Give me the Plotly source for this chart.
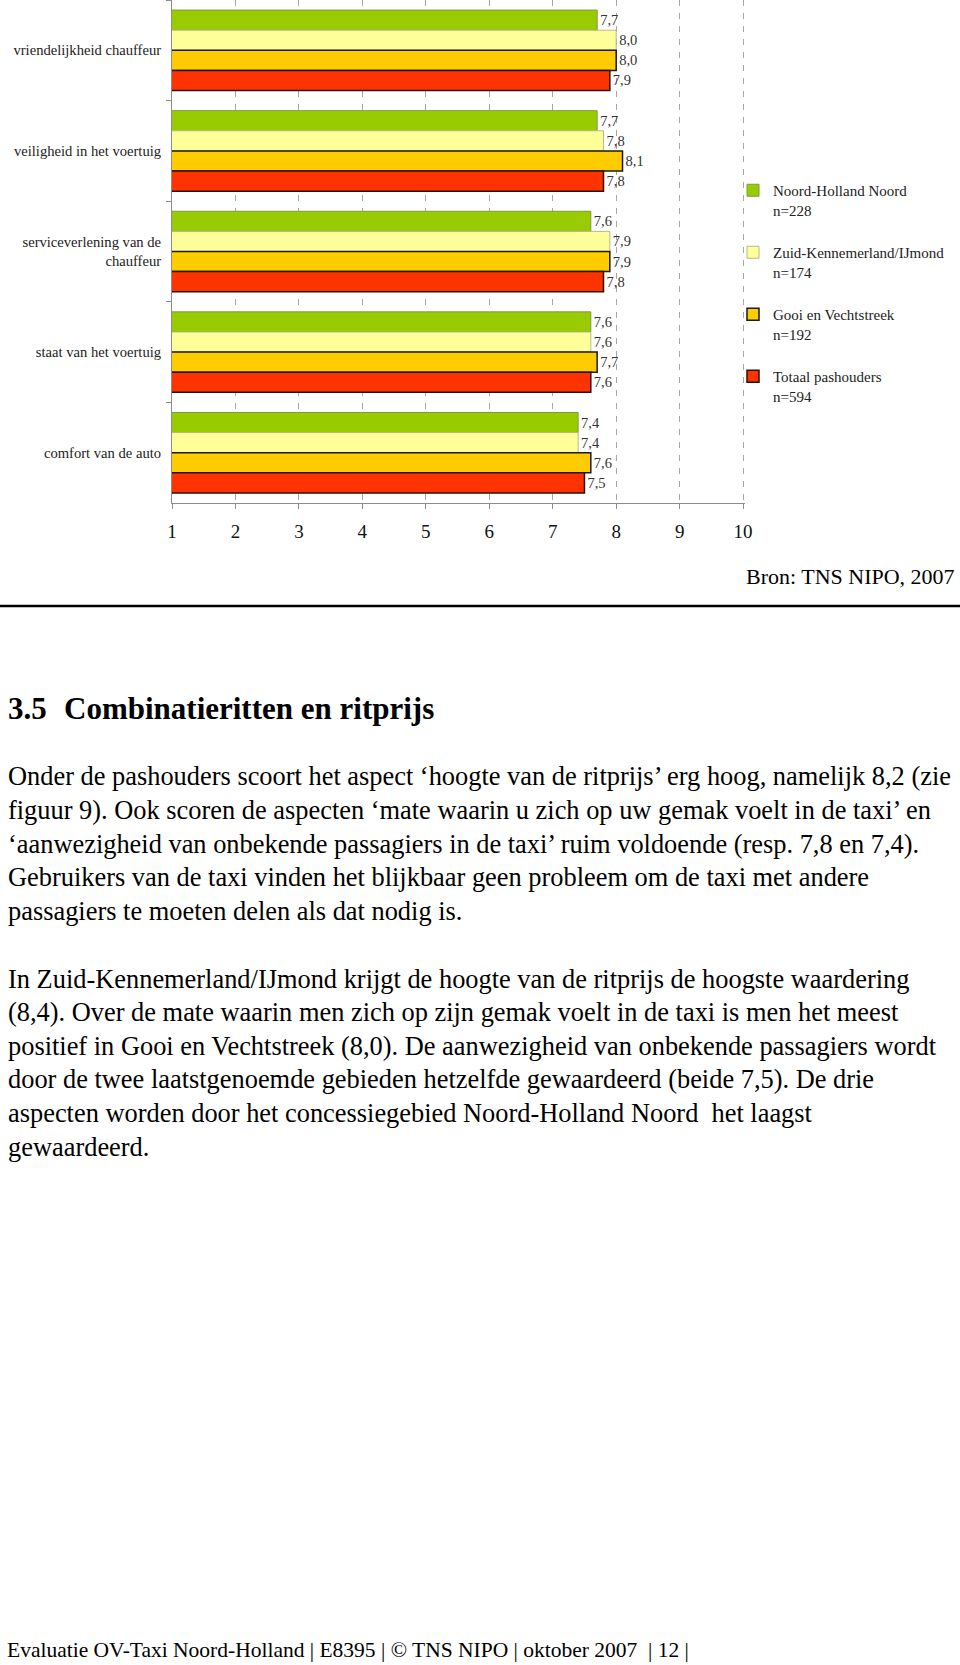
import plotly.graph_objects as go

# ---- data ----
categories = [
    "vriendelijkheid chauffeur",
    "veiligheid in het voertuig",
    "serviceverlening van de<br>chauffeur",
    "staat van het voertuig",
    "comfort van de auto",
]
series_names = [
    "Noord-Holland Noord<br>n=228",
    "Zuid-Kennemerland/IJmond<br>n=174",
    "Gooi en Vechtstreek<br>n=192",
    "Totaal pashouders<br>n=594",
]
noord_holland_noord = [7.7, 7.7, 7.6, 7.6, 7.4]
zuid_kennemerland = [8.0, 7.8, 7.9, 7.6, 7.4]
gooi_vechtstreek = [8.0, 8.1, 7.9, 7.7, 7.6]
totaal_pashouders = [7.9, 7.8, 7.8, 7.6, 7.5]
series_values = [noord_holland_noord, zuid_kennemerland, gooi_vechtstreek, totaal_pashouders]
x_ticks = [1, 2, 3, 4, 5, 6, 7, 8, 9, 10]

source_text = "Bron: TNS NIPO, 2007"
heading_num = "3.5"
heading_text = "Combinatieritten en ritprijs"
paragraph1 = [
    "Onder de pashouders scoort het aspect \u2018hoogte van de ritprijs\u2019 erg hoog, namelijk 8,2 (zie",
    "figuur 9). Ook scoren de aspecten \u2018mate waarin u zich op uw gemak voelt in de taxi\u2019 en",
    "\u2018aanwezigheid van onbekende passagiers in de taxi\u2019 ruim voldoende (resp. 7,8 en 7,4).",
    "Gebruikers van de taxi vinden het blijkbaar geen probleem om de taxi met andere",
    "passagiers te moeten delen als dat nodig is.",
]
paragraph2 = [
    "In Zuid-Kennemerland/IJmond krijgt de hoogte van de ritprijs de hoogste waardering",
    "(8,4). Over de mate waarin men zich op zijn gemak voelt in de taxi is men het meest",
    "positief in Gooi en Vechtstreek (8,0). De aanwezigheid van onbekende passagiers wordt",
    "door de twee laatstgenoemde gebieden hetzelfde gewaardeerd (beide 7,5). De drie",
    "aspecten worden door het concessiegebied Noord-Holland Noord\u00a0 het laagst",
    "gewaardeerd.",
]
footer_text = "Evaluatie OV-Taxi Noord-Holland | E8395 | \u00a9 TNS NIPO | oktober 2007 \u00a0| 12 |"

# ---- styles ----
colors = ["#99CC00", "#FFFF99", "#FFCC00", "#FF3300"]
line_colors = ["#7d9a3a", "#b8b88a", "#1a1a1a", "#2a1200"]
line_widths = [1, 1, 1.5, 1.5]
SERIF = "Liberation Serif"

W, H = 960, 1665
L, R_EDGE = 172, 745
PLOT_TOP, PLOT_BOT = 0, 503

def px_x(px):
    return (px - L) / (R_EDGE - L)

def px_y(py):
    return (PLOT_BOT - py) / (PLOT_BOT - PLOT_TOP)

fig = go.Figure()
for i, (name, vals) in enumerate(zip(series_names, series_values)):
    fig.add_trace(go.Bar(
        y=categories, x=vals, name=name, orientation="h",
        marker=dict(color=colors[i], line=dict(color=line_colors[i], width=line_widths[i])),
        texttemplate="%{x:.1f}", textposition="outside", constraintext="none",
        textfont=dict(family=SERIF, size=14.5, color="#333333"),
        legendgroup=f"g{i}",
    ))

annotations = []
annotations.append(dict(text=source_text, x=px_x(957), y=px_y(577), xref="paper", yref="paper",
                        xanchor="right", yanchor="middle", showarrow=False,
                        font=dict(family=SERIF, size=22, color="#000")))
annotations.append(dict(text="<b>" + heading_num + "</b>", x=px_x(6), y=px_y(708), xref="paper", yref="paper",
                        xanchor="left", yanchor="middle", showarrow=False,
                        font=dict(family=SERIF, size=31, color="#000")))
annotations.append(dict(text="<b>" + heading_text + "</b>", x=px_x(62), y=px_y(708), xref="paper", yref="paper",
                        xanchor="left", yanchor="middle", showarrow=False,
                        font=dict(family=SERIF, size=31, color="#000")))
p1_y = [776, 810, 844, 877, 911]
for t, yy in zip(paragraph1, p1_y):
    annotations.append(dict(text=t, x=px_x(6), y=px_y(yy), xref="paper", yref="paper",
                            xanchor="left", yanchor="middle", showarrow=False,
                            font=dict(family=SERIF, size=26.4, color="#000")))
p2_y = [979, 1012, 1046, 1079, 1113, 1147]
for t, yy in zip(paragraph2, p2_y):
    annotations.append(dict(text=t, x=px_x(6), y=px_y(yy), xref="paper", yref="paper",
                            xanchor="left", yanchor="middle", showarrow=False,
                            font=dict(family=SERIF, size=26.4, color="#000")))
annotations.append(dict(text=footer_text, x=px_x(5), y=px_y(1650), xref="paper", yref="paper",
                        xanchor="left", yanchor="middle", showarrow=False,
                        font=dict(family=SERIF, size=21.5, color="#000")))

fig.update_layout(
    width=W, height=H,
    margin=dict(l=L, r=W - R_EDGE, t=PLOT_TOP, b=H - PLOT_BOT, pad=0),
    paper_bgcolor="white", plot_bgcolor="white",
    font=dict(family=SERIF, size=14, color="#000"),
    barmode="group", bargap=0.2, bargroupgap=0,
    separators=",.",
    showlegend=True,
    legend=dict(x=px_x(733), y=px_y(174), xanchor="left", yanchor="top",
                xref="paper", yref="paper",
                bgcolor="rgba(0,0,0,0)", borderwidth=0,
                font=dict(family=SERIF, size=15, color="#222"),
                traceorder="grouped", tracegroupgap=20, valign="top"),
    xaxis=dict(range=[1, 10.03], tickvals=x_ticks, ticktext=[str(v) for v in x_ticks],
               showgrid=True, gridcolor="#a6a6a6", griddash="6px,7px", gridwidth=1,
               showline=True, linecolor="#8c8c8c", linewidth=1,
               ticks="outside", ticklen=5, tickcolor="#8c8c8c",
               tickfont=dict(family=SERIF, size=19, color="#111"),
               ticklabelstandoff=6, zeroline=False, fixedrange=True),
    yaxis=dict(autorange="reversed", showgrid=False,
               showline=True, linecolor="#8c8c8c", linewidth=1,
               ticks="outside", ticklen=5, tickcolor="#8c8c8c", tickson="boundaries",
               tickfont=dict(family=SERIF, size=14.6, color="#222"),
               ticklabelstandoff=7, fixedrange=True),
    annotations=annotations,
    shapes=[dict(type="line", xref="paper", yref="paper",
                 x0=px_x(0), x1=px_x(960), y0=px_y(606), y1=px_y(606),
                 line=dict(color="#000", width=2.5))],
)

fig.write_html("out.html")
